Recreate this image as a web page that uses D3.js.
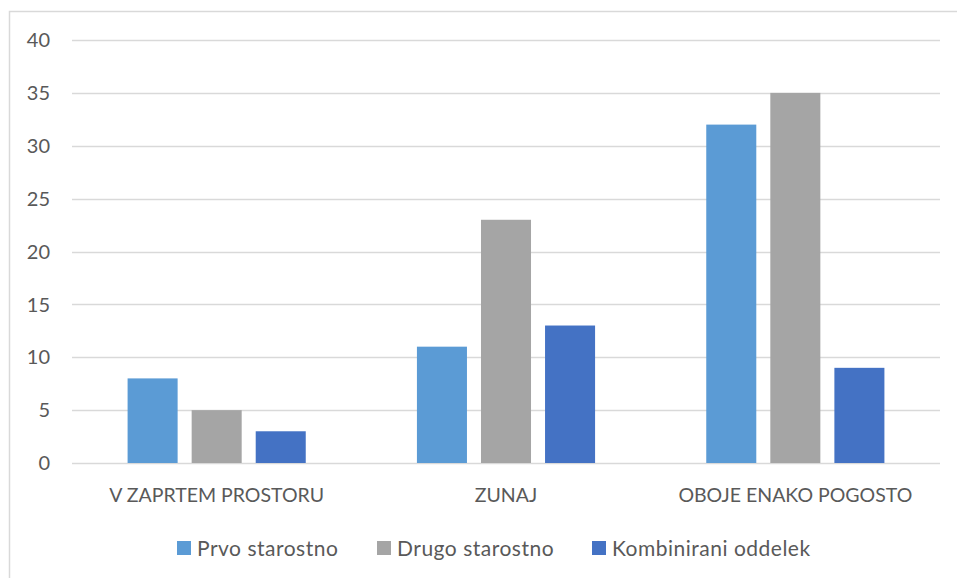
<!DOCTYPE html>
<html>
<head>
<meta charset="utf-8">
<script src="https://cdn.jsdelivr.net/npm/d3@7"></script>
<style>
  html, body { margin: 0; padding: 0; background: #fff; }
  svg { display: block; }
  text { font-family: Lato, "Open Sans", sans-serif; fill: #595959; }
</style>
</head>
<body>
<svg id="chart" width="957" height="578"></svg>
<script>
const categories = ["V ZAPRTEM PROSTORU", "ZUNAJ", "OBOJE ENAKO POGOSTO"];
const seriesNames = ["Prvo starostno", "Drugo starostno", "Kombinirani oddelek"];
const prvo = [8, 11, 32];
const drugo = [5, 23, 35];
const kombinirani = [3, 13, 9];
const yTicks = [0, 5, 10, 15, 20, 25, 30, 35, 40];
const colors = ["#5B9BD5", "#A5A5A5", "#4472C4"];

const seriesValues = [prvo, drugo, kombinirani];

const svg = d3.select("#chart");
const W = 957, H = 578;
const plot = { left: 72, right: 940, top: 40, bottom: 463 };

// chart frame (only top and left edges fall inside the view)
svg.append("rect")
  .attr("x", 9.5).attr("y", 11.5)
  .attr("width", W + 20).attr("height", H + 20)
  .attr("fill", "none").attr("stroke", "#d9d9d9").attr("stroke-width", 1.5);

const y = d3.scaleLinear().domain([0, 40]).range([plot.bottom, plot.top]);
const x0 = d3.scaleBand().domain(categories).range([plot.left, plot.right]).paddingInner(0.336).paddingOuter(0.168);
const x1 = d3.scaleBand().domain(seriesNames).range([0, x0.bandwidth()]).paddingInner(0.219).paddingOuter(0.109);

// gridlines
svg.append("g").selectAll("line").data(yTicks).join("line")
  .attr("x1", plot.left).attr("x2", plot.right)
  .attr("y1", d => Math.round(y(d)) + 0.5).attr("y2", d => Math.round(y(d)) + 0.5)
  .attr("stroke", "#d9d9d9").attr("stroke-width", 1.3);

// y tick labels
svg.append("g").selectAll("text").data(yTicks).join("text")
  .attr("x", 50).attr("y", d => y(d))
  .attr("dy", "0.36em").attr("text-anchor", "end")
  .attr("font-size", 20).text(d => d);

// bars
const groups = svg.append("g").selectAll("g").data(categories).join("g")
  .attr("transform", c => `translate(${x0(c)},0)`);
groups.selectAll("rect")
  .data((c, i) => seriesNames.map((s, j) => ({ s, j, v: seriesValues[j][i] })))
  .join("rect")
  .attr("x", d => x1(d.s))
  .attr("width", x1.bandwidth())
  .attr("y", d => y(d.v))
  .attr("height", d => y(0) - y(d.v))
  .attr("fill", d => colors[d.j]);

// category labels
svg.append("g").selectAll("text").data(categories).join("text")
  .attr("x", c => x0(c) + x0.bandwidth() / 2).attr("y", 502)
  .attr("text-anchor", "middle").attr("font-size", 19.5).text(c => c);

// legend
const legendX = [177, 377, 592];
const legend = svg.append("g").selectAll("g").data(seriesNames).join("g")
  .attr("transform", (s, i) => `translate(${legendX[i]},541)`);
legend.append("rect").attr("width", 14).attr("height", 14).attr("fill", (s, i) => colors[i]);
legend.append("text").attr("x", 20).attr("y", 15)
  .attr("font-size", 21).attr("letter-spacing", 0.5).text(s => s);
</script>
</body>
</html>
